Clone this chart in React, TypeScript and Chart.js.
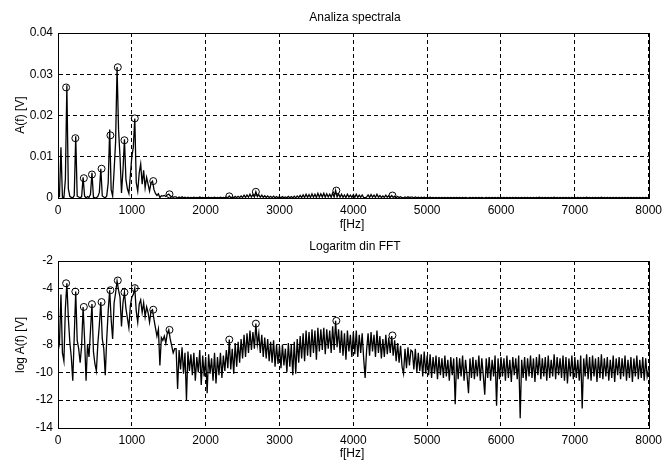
import React, { useEffect, useRef } from "react";
import { Chart, registerables } from "chart.js";
Chart.register(...registerables);

// FFT bin grid (Hz)
const FREQ_START_HZ = 0;
const FREQ_STEP_HZ = 20;

// log A(f), one value per 20 Hz bin from 0 to 8000 Hz
const logSpectrum = [
  -7.3, -7.9, -4.4, -8.6, -9.2, -5.4, -3.6, -6.1, -7.8, -8.9,
  -10.6, -7.4, -4.2, -7.7, -8.3, -9.3, -8.1, -5.3, -7.6, -10.6,
  -8.0, -8.9, -7.0, -5.1, -8.5, -9.4, -9.9, -7.9, -6.6, -4.95,
  -7.6, -8.3, -10.2, -7.6, -5.6, -4.1, -6.2, -7.6, -5.0, -4.3,
  -3.45, -4.1, -4.6, -6.7, -5.0, -4.25, -5.4, -6.1, -6.8, -5.2,
  -4.6, -4.4, -3.95, -5.6, -6.4, -5.1, -4.8, -5.7, -5.0, -6.0,
  -5.3, -5.7, -6.4, -5.6, -5.5, -6.2, -6.8, -7.4, -6.9, -9.5,
  -7.5, -7.7, -7.4, -7.9, -7.2, -6.95, -7.6, -8.1, -8.6, -8.3,
  -8.3, -11.2, -8.4, -9.8, -8.2, -10.1, -8.6, -12.0, -8.5, -9.9,
  -8.7, -10.2, -8.6, -10.6, -8.9, -10.0, -8.4, -10.9, -8.8, -10.3,
  -8.9, -11.5, -8.7, -10.1, -9.0, -10.6, -8.6, -10.8, -8.9, -10.2,
  -8.6, -10.4, -8.8, -9.9, -8.4, -9.7, -7.65, -9.8, -8.3, -10.1,
  -7.9, -9.6, -7.8, -9.3, -7.6, -9.0, -7.3, -8.9, -7.2, -8.6,
  -7.0, -8.4, -7.1, -8.3, -6.5, -8.0, -7.2, -8.6, -7.3, -8.9,
  -7.5, -9.0, -7.6, -9.2, -7.8, -9.3, -7.7, -9.6, -8.0, -9.4,
  -8.1, -9.7, -8.0, -9.5, -8.3, -10.0, -7.9, -9.6, -8.0, -10.2,
  -7.8, -10.1, -7.6, -9.3, -7.4, -9.0, -7.2, -9.2, -7.0, -8.8,
  -7.1, -8.9, -6.9, -8.6, -7.0, -9.1, -6.8, -8.5, -6.9, -8.4,
  -6.8, -8.7, -6.9, -8.3, -7.0, -8.6, -6.7, -8.4, -6.3, -8.2,
  -6.9, -8.6, -7.0, -8.8, -7.2, -9.1, -7.0, -8.5, -7.3, -8.9,
  -7.1, -8.7, -7.0, -8.9, -7.3, -8.6, -7.2, -9.0, -10.4, -8.4,
  -7.2, -8.8, -7.1, -8.5, -7.3, -8.9, -7.0, -8.6, -7.4, -9.0,
  -7.6, -8.9, -7.3, -8.7, -7.5, -8.6, -7.4, -8.8, -7.7, -9.2,
  -7.9, -9.3, -8.1, -9.6, -10.1, -8.3, -9.7, -8.2, -9.5, -8.4,
  -8.5, -9.8, -8.3, -10.0, -8.6, -9.9, -8.7, -10.3, -8.5, -10.1,
  -8.8, -10.2, -8.7, -10.4, -8.9, -10.1, -8.8, -10.5, -8.9, -10.2,
  -9.0, -10.4, -8.8, -10.3, -9.1, -10.6, -8.9, -10.2, -9.0, -12.3,
  -8.9, -10.5, -9.0, -10.3, -8.8, -10.6, -9.1, -10.2, -11.5, -9.0,
  -10.4, -8.9, -10.5, -9.1, -10.3, -8.8, -10.6, -9.0, -10.2, -11.6,
  -9.0, -10.4, -8.9, -10.6, -9.1, -10.3, -8.8, -12.4, -9.0, -10.5,
  -8.9, -10.3, -9.0, -10.6, -8.8, -10.4, -9.1, -10.7, -8.9, -10.2,
  -9.0, -10.5, -8.8, -13.3, -9.1, -10.4, -8.9, -10.6, -9.0, -10.3,
  -8.8, -10.4, -9.0, -10.7, -8.9, -10.2, -8.7, -10.5, -9.0, -10.3,
  -8.9, -10.6, -8.8, -10.4, -9.1, -10.3, -8.7, -10.5, -8.9, -10.2,
  -9.0, -10.4, -8.8, -10.6, -8.9, -10.8, -9.0, -10.3, -8.8, -10.5,
  -8.9, -10.4, -9.1, -10.6, -8.8, -12.6, -9.0, -10.3, -8.7, -10.5,
  -8.9, -10.6, -8.8, -10.3, -9.0, -10.7, -8.9, -10.4, -8.7, -10.5,
  -9.0, -10.3, -8.9, -10.6, -9.1, -10.4, -8.8, -10.7, -9.0, -10.2,
  -8.9, -10.5, -9.0, -10.3, -8.8, -10.6, -9.1, -10.4, -8.9, -10.7,
  -9.0, -10.3, -8.8, -10.5, -9.1, -10.4, -8.9, -10.6, -9.0, -10.3,
  -9.8,
];

// detected peaks (circles)
const peakFreqs = [110, 235, 350, 460, 590, 710, 810, 900, 1040, 1290, 1510, 2320, 2680, 3770, 4530];
const peakAmplitudes = [0.0268, 0.0145, 0.0048, 0.0057, 0.0071, 0.0152, 0.0317, 0.014, 0.0193, 0.0041, 0.0009, 0.0004, 0.0015, 0.0018, 0.0006];
const peakLogs = [-3.6, -4.2, -5.3, -5.1, -4.95, -4.1, -3.4, -4.25, -3.95, -5.5, -6.95, -7.65, -6.5, -6.3, -7.35];

const xTicks = [0, 1000, 2000, 3000, 4000, 5000, 6000, 7000, 8000];
const topYTicks = [0, 0.01, 0.02, 0.03, 0.04];
const bottomYTicks = [-14, -12, -10, -8, -6, -4, -2];

const FONT = '"Liberation Sans", Arial, sans-serif';

const boxPlugin = {
  id: "box",
  afterDraw(chart: any) {
    const { ctx, chartArea } = chart;
    ctx.save();
    ctx.setLineDash([]);
    ctx.strokeStyle = "#000";
    ctx.lineWidth = 1;
    ctx.strokeRect(
      Math.round(chartArea.left) + 0.5,
      Math.round(chartArea.top) + 0.5,
      Math.round(chartArea.right) - Math.round(chartArea.left),
      Math.round(chartArea.bottom) - Math.round(chartArea.top)
    );
    ctx.restore();
  },
};

function makeConfig(
  lineData: { x: number; y: number }[],
  peakData: { x: number; y: number }[],
  yTicks: number[],
  padTop: number,
  xHeight: number
): any {
  return {
    type: "line",
    data: {
      datasets: [
        {
          data: lineData,
          borderColor: "#000",
          borderWidth: 1.3,
          pointRadius: 0,
          tension: 0,
          fill: false,
        },
        {
          data: peakData,
          showLine: false,
          pointRadius: 3.5,
          pointStyle: "circle",
          pointBorderColor: "#000",
          pointBackgroundColor: "rgba(0,0,0,0)",
          pointBorderWidth: 1,
        },
      ],
    },
    options: {
      animation: false,
      responsive: false,
      devicePixelRatio: 1,
      layout: { padding: { top: padTop, right: 14, bottom: 0, left: 0 } },
      plugins: { legend: { display: false }, tooltip: { enabled: false }, title: { display: false } },
      scales: {
        x: {
          type: "linear",
          min: xTicks[0],
          max: xTicks[xTicks.length - 1],
          afterBuildTicks: (s: any) => {
            s.ticks = xTicks.map((v) => ({ value: v }));
          },
          afterFit: (s: any) => {
            s.height = xHeight;
          },
          grid: { color: "#000", lineWidth: 1, drawTicks: false },
          border: { display: true, color: "#000", dash: [4, 3] },
          ticks: {
            color: "#000",
            padding: 5,
            maxRotation: 0,
            autoSkip: false,
            font: { family: FONT, size: 12 },
            callback: (v: any) => String(v),
          },
        },
        y: {
          type: "linear",
          min: yTicks[0],
          max: yTicks[yTicks.length - 1],
          afterBuildTicks: (s: any) => {
            s.ticks = yTicks.map((v) => ({ value: v }));
          },
          afterFit: (s: any) => {
            s.width = 58;
          },
          grid: { color: "#000", lineWidth: 1, drawTicks: false },
          border: { display: true, color: "#000", dash: [4, 3] },
          ticks: {
            color: "#000",
            padding: 5,
            autoSkip: false,
            font: { family: FONT, size: 12 },
            callback: (v: any) => String(v),
          },
        },
      },
    },
    plugins: [boxPlugin],
  };
}

export default function App() {
  const topRef = useRef<HTMLCanvasElement>(null);
  const botRef = useRef<HTMLCanvasElement>(null);

  useEffect(() => {
    document.body.style.margin = "0";
    document.body.style.background = "#fff";
    const logData = logSpectrum.map((v, i) => ({ x: FREQ_START_HZ + i * FREQ_STEP_HZ, y: v }));
    const ampData = logSpectrum.map((v, i) => ({ x: FREQ_START_HZ + i * FREQ_STEP_HZ, y: Math.exp(v) }));
    const topPeaks = peakFreqs.map((f, i) => ({ x: f, y: peakAmplitudes[i] }));
    const botPeaks = peakFreqs.map((f, i) => ({ x: f, y: peakLogs[i] }));
    const c1 = new Chart(topRef.current!, makeConfig(ampData, topPeaks, topYTicks, 33, 32));
    const c2 = new Chart(botRef.current!, makeConfig(logData, botPeaks, bottomYTicks, 31, 33));
    return () => {
      c1.destroy();
      c2.destroy();
    };
  }, []);

  const text: React.CSSProperties = {
    position: "absolute",
    fontFamily: FONT,
    fontSize: 12,
    lineHeight: "14px",
    color: "#000",
    whiteSpace: "nowrap",
  };
  const centered = (cx: number, cy: number, rot = false): React.CSSProperties => ({
    ...text,
    left: cx,
    top: cy,
    transform: `translate(-50%, -50%)${rot ? " rotate(-90deg)" : ""}`,
  });

  return (
    <div style={{ position: "relative", width: 667, height: 461, background: "#fff", overflow: "hidden" }}>
      <canvas ref={topRef} width={667} height={230} style={{ position: "absolute", left: 0, top: 0, width: 667, height: 230 }} />
      <canvas ref={botRef} width={667} height={231} style={{ position: "absolute", left: 0, top: 230, width: 667, height: 231 }} />
      <div style={centered(355, 17)}>Analiza spectrala</div>
      <div style={centered(352, 224)}>f[Hz]</div>
      <div style={centered(20, 115, true)}>A(f) [V]</div>
      <div style={centered(355, 246)}>Logaritm din FFT</div>
      <div style={centered(352, 453)}>f[Hz]</div>
      <div style={centered(20, 345, true)}>log A(f) [V]</div>
    </div>
  );
}
